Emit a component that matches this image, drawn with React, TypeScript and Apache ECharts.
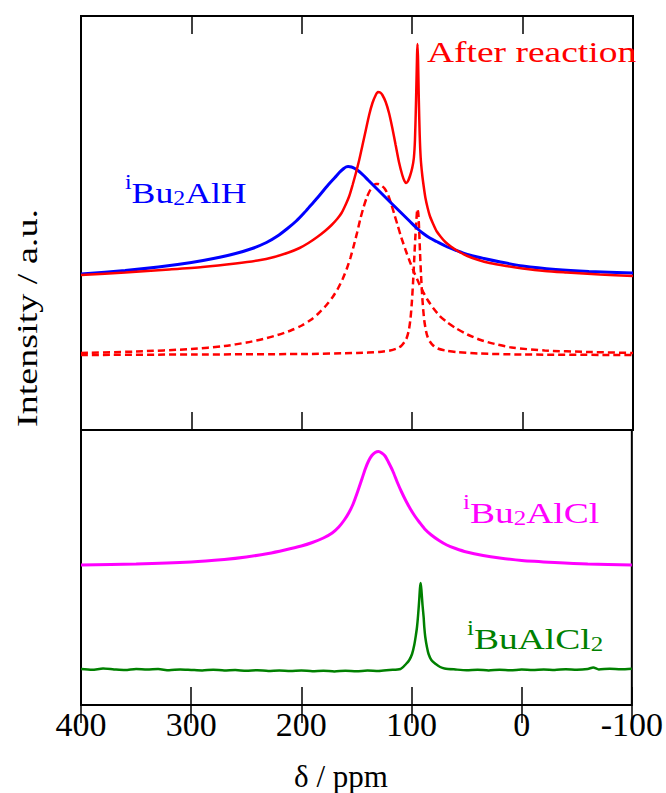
import React, { useEffect, useRef } from "react";
import * as echarts from "echarts";

// x: chemical shift δ (ppm), y: intensity (a.u.)
const xTicks = [400, 300, 200, 100, 0, -100];

const afterReaction: [number, number][] = [
  [400, 155], [360, 157.5], [320, 160.5], [290, 163], [260, 166.5], [240, 169.5], [225, 173],
  [212, 177.5], [202, 182], [194, 187], [186, 193], [179, 199], [173, 205], [168, 211],
  [164, 217], [160, 226], [157, 234], [154, 245], [151, 257], [148, 270], [145, 285],
  [142, 300], [139, 315], [136, 327], [133, 335], [131, 338], [129, 337.5], [127, 335],
  [124, 328], [121, 317], [118, 302], [115, 285], [112, 268], [109, 255], [107, 249],
  [105.5, 247], [104, 248.5], [102, 254], [100, 262], [98.5, 272], [97.5, 290], [96.5, 330],
  [95.6, 375], [95.2, 386], [94.7, 370], [94, 330], [93.2, 295], [92.3, 272], [91, 256],
  [89.5, 243], [88, 232], [86, 222], [84, 214], [81, 206], [78, 199], [74, 193], [70, 188],
  [65, 183.5], [58, 178.5], [50, 174], [40, 170], [30, 167], [15, 164], [0, 161.5],
  [-20, 159], [-40, 157.5], [-70, 155.5], [-100, 154],
];

const bu2AlH: [number, number][] = [
  [400, 156], [360, 159.5], [330, 163], [300, 167.5], [280, 171.5], [260, 176.5], [245, 181.5],
  [232, 187.5], [222, 194], [213, 201.5], [205, 209], [198, 217], [192, 224.5], [186, 232],
  [180, 240], [175, 246.5], [170, 252.5], [166, 257.5], [162, 261.5], [160, 263], [158, 263.5],
  [155, 263], [152, 261.5], [148, 258.5], [144, 254.5], [140, 250], [135, 244.5], [130, 239],
  [125, 233.5], [120, 228], [114, 221.5], [108, 215], [102, 208.5], [96, 202], [90, 196.5],
  [84, 192], [78, 188.5], [70, 184], [60, 179.5], [50, 175.5], [35, 171.5], [20, 168],
  [0, 164], [-30, 160.5], [-60, 158.5], [-100, 157],
];

const fitBroad: [number, number][] = [
  [400, 77], [350, 78.5], [300, 81], [270, 84], [250, 87.5], [235, 91], [222, 95], [210, 99.5],
  [200, 104.5], [192, 110], [185, 116.5], [178, 124.5], [172, 133], [167, 142], [163, 151],
  [159, 162], [156, 172], [153, 184], [150, 197], [147, 211], [144, 223], [141, 233],
  [138, 240], [135, 244.5], [133, 246], [131, 246], [128, 244.5], [125, 241.5], [122, 235.5],
  [119, 226], [116, 215], [113, 204], [110, 193], [106, 180], [102, 168], [98, 157], [94, 147],
  [90, 138], [86, 130], [81, 122], [75, 114], [68, 107.5], [60, 101.5], [50, 95.5], [38, 90],
  [25, 86], [10, 82.5], [-20, 79.5], [-60, 78], [-100, 77],
];

const fitSharp: [number, number][] = [
  [400, 75], [300, 75.5], [200, 76], [150, 77], [130, 78], [120, 79.5], [114, 81.5], [110, 84],
  [107, 88], [105, 92], [103, 100], [101.5, 112], [100.3, 128], [99.2, 148], [98.2, 170],
  [97.2, 192], [96.2, 210], [95.3, 221], [94.5, 217], [93.7, 200], [92.9, 177], [92, 155],
  [91, 135], [90, 120], [89, 109], [87.5, 99], [86, 93], [84, 88.5], [81, 84.5], [77, 81.5],
  [70, 79.5], [60, 78], [40, 76.5], [0, 75.5], [-100, 75],
];

const bu2AlCl: [number, number][] = [
  [400, 140], [350, 141], [300, 143], [270, 145.5], [250, 148], [230, 151.5], [215, 155],
  [200, 159], [190, 162.5], [180, 167], [172, 172], [166, 178], [161, 185], [157, 192],
  [153, 201], [149, 213], [145, 226], [142, 236], [139, 244], [136, 249.5], [133, 252.5],
  [130, 253.5], [127, 252], [124, 249], [121, 243], [117, 234], [113, 223], [109, 213],
  [105, 204], [101, 196], [97, 189], [93, 183], [88, 176], [82, 170], [75, 164.5], [68, 160],
  [60, 156.5], [50, 153], [35, 149.5], [20, 147], [0, 144.5], [-30, 142.5], [-60, 141],
  [-100, 140],
];

const buAlCl2: [number, number][] = [
  [400, 36], [390, 35.2], [380, 36.4], [370, 35.6], [360, 35.0], [350, 36.1], [340, 35.4],
  [330, 35.9], [320, 34.8], [310, 35.6], [300, 35.1], [290, 34.6], [280, 35.3], [270, 34.5],
  [260, 35.0], [250, 34.2], [240, 34.8], [230, 34.0], [220, 34.6], [210, 33.9], [200, 34.5],
  [190, 33.8], [180, 34.3], [170, 33.6], [160, 34.2], [150, 33.7], [140, 34.4], [130, 34.0],
  [120, 35.0], [110, 36], [105, 41], [102, 45], [99.5, 51], [97.5, 60], [96, 70], [95, 78],
  [94, 90], [93, 105], [92.3, 117], [91.7, 122], [91, 115], [90, 100], [89, 88], [88.4, 78],
  [87.5, 68], [86, 58], [84.5, 51], [82, 45], [78, 41], [74, 38], [70, 36.5], [60, 35.5],
  [50, 34.8], [40, 35.3], [30, 34.6], [20, 35.2], [10, 34.7], [0, 35.4], [-10, 34.9],
  [-20, 35.6], [-30, 35.0], [-40, 35.8], [-50, 35.2], [-60, 36.0], [-65, 37.5], [-70, 35.6],
  [-80, 36.2], [-90, 35.7], [-100, 36.3],
];

const FONT = '"Liberation Serif", "Times New Roman", serif';

export default function App() {
  const ref = useRef<HTMLDivElement>(null);
  useEffect(() => {
    if (!ref.current) return;
    const chart = echarts.init(ref.current, null, { renderer: "svg" });
    const tick = { inside: true, length: 18, lineStyle: { color: "#000", width: 1.5 } };
    const baseX = {
      type: "value" as const,
      min: -100,
      max: 400,
      interval: 100,
      inverse: true,
      axisLine: { show: false },
      axisTick: tick,
      axisLabel: { show: false },
      splitLine: { show: false },
    };
    const line = (
      data: [number, number][],
      color: string,
      width: number,
      xi: number,
      yi: number,
      dashed = false,
      name = ""
    ) => ({
      type: "line",
      name,
      data,
      xAxisIndex: xi,
      yAxisIndex: yi,
      showSymbol: false,
      smooth: 0.25,
      lineStyle: { color, width, type: dashed ? [7, 4] : "solid" },
    });
    const rich = (size: number, color: string) => ({
      n: { fontSize: size, fontFamily: FONT, fill: color, color, lineHeight: 36, verticalAlign: "bottom" },
      sup: { fontSize: 20, fontFamily: FONT, fill: color, color, lineHeight: 36, verticalAlign: "top" },
      sub: { fontSize: 20, fontFamily: FONT, fill: color, color, lineHeight: 36, verticalAlign: "bottom" },
    });
    chart.setOption({
      animation: false,
      backgroundColor: "#fff",
      grid: [
        { left: 81, top: 16, width: 552, height: 414, show: true, borderColor: "#000", borderWidth: 2 },
        { left: 81, top: 430, width: 552, height: 275, show: true, borderColor: "#000", borderWidth: 2 },
      ],
      xAxis: [
        { ...baseX, gridIndex: 0, position: "bottom" },
        { ...baseX, gridIndex: 0, position: "top" },
        { ...baseX, gridIndex: 1, position: "top" },
        {
          ...baseX,
          gridIndex: 1,
          position: "bottom",
          axisLabel: {
            show: true,
            margin: 2,
            fontSize: 34,
            fontFamily: FONT,
            color: "#000",
            formatter: (v: number) => (xTicks.includes(v) ? String(v) : ""),
          },
        },
      ],
      yAxis: [
        { type: "value", gridIndex: 0, min: 0, max: 414, show: false },
        { type: "value", gridIndex: 1, min: 0, max: 275, show: false },
      ],
      series: [
        line(fitBroad, "#ff0000", 2.5, 0, 0, true, "fit1"),
        line(fitSharp, "#ff0000", 2.5, 0, 0, true, "fit2"),
        line(bu2AlH, "#0000ff", 3, 0, 0, false, "iBu2AlH"),
        line(afterReaction, "#ff0000", 2.5, 0, 0, false, "After reaction"),
        line(bu2AlCl, "#ff00ff", 3, 3, 1, false, "iBu2AlCl"),
        line(buAlCl2, "#008000", 2.5, 3, 1, false, "iBuAlCl2"),
      ],
      graphic: [
        {
          type: "text",
          x: 27,
          y: 318,
          rotation: Math.PI / 2,
          scaleX: 1.27,
          style: { text: "Intensity / a.u.", font: `30px ${FONT}`, fill: "#000", align: "center", verticalAlign: "middle" },
        },
        {
          type: "text",
          x: 341,
          y: 776,
          style: { text: "δ / ppm", font: `31px ${FONT}`, fill: "#000", align: "center", verticalAlign: "middle" },
        },
        {
          type: "text",
          x: 427,
          y: 52,
          scaleX: 1.25,
          style: { text: "After reaction", font: `30px ${FONT}`, fill: "#ff0000", align: "left", verticalAlign: "middle" },
        },
        {
          type: "text",
          x: 125,
          y: 190,
          scaleX: 1.19,
          style: { text: "{sup|i}{n|Bu}{sub|2}{n|AlH}", rich: rich(30, "#0000ff"), align: "left", verticalAlign: "middle" },
        },
        {
          type: "text",
          x: 463,
          y: 510,
          scaleX: 1.25,
          style: { text: "{sup|i}{n|Bu}{sub|2}{n|AlCl}", rich: rich(30, "#ff00ff"), align: "left", verticalAlign: "middle" },
        },
        {
          type: "text",
          x: 467,
          y: 636,
          scaleX: 1.25,
          style: { text: "{sup|i}{n|BuAlCl}{sub|2}", rich: rich(30, "#008000"), align: "left", verticalAlign: "middle" },
        },
      ],
    });
    return () => chart.dispose();
  }, []);
  return (
    <div
      ref={ref}
      style={{ position: "fixed", left: 0, top: 0, width: 666, height: 793, background: "#fff" }}
    />
  );
}
